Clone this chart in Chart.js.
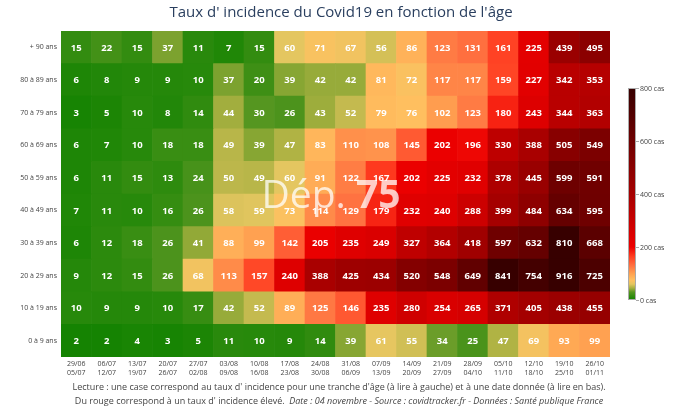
<!DOCTYPE html>
<html>
<head>
<meta charset="utf-8">
<script src="https://cdn.jsdelivr.net/npm/chart.js@4"></script>
<style>
  body { margin: 0; background: #fff; }
  #wrap { width: 684px; height: 418px; }
</style>
</head>
<body>
<div id="wrap"><canvas id="myChart" width="684" height="418"></canvas></div>
<script>
// weeks (x), age groups (y, bottom to top), incidence per 100k
var weeks = [
  ['29/06', '05/07'], ['06/07', '12/07'], ['13/07', '19/07'], ['20/07', '26/07'],
  ['27/07', '02/08'], ['03/08', '09/08'], ['10/08', '16/08'], ['17/08', '23/08'],
  ['24/08', '30/08'], ['31/08', '06/09'], ['07/09', '13/09'], ['14/09', '20/09'],
  ['21/09', '27/09'], ['28/09', '04/10'], ['05/10', '11/10'], ['12/10', '18/10'],
  ['19/10', '25/10'], ['26/10', '01/11']
];
var ages = ['0 à 9 ans', '10 à 19 ans', '20 à 29 ans', '30 à 39 ans', '40 à 49 ans',
            '50 à 59 ans', '60 à 69 ans', '70 à 79 ans', '80 à 89 ans', '+ 90 ans'];

var age0_9   = [2, 2, 4, 3, 5, 11, 10, 9, 14, 39, 61, 55, 34, 25, 47, 69, 93, 99];
var age10_19 = [10, 9, 9, 10, 17, 42, 52, 89, 125, 146, 235, 280, 254, 265, 371, 405, 438, 455];
var age20_29 = [9, 12, 15, 26, 68, 113, 157, 240, 388, 425, 434, 520, 548, 649, 841, 754, 916, 725];
var age30_39 = [6, 12, 18, 26, 41, 88, 99, 142, 205, 235, 249, 327, 364, 418, 597, 632, 810, 668];
var age40_49 = [7, 11, 10, 16, 26, 58, 59, 73, 114, 129, 179, 232, 240, 288, 399, 484, 634, 595];
var age50_59 = [6, 11, 15, 13, 24, 50, 49, 60, 91, 122, 167, 202, 225, 232, 378, 445, 599, 591];
var age60_69 = [6, 7, 10, 18, 18, 49, 39, 47, 83, 110, 108, 145, 202, 196, 330, 388, 505, 549];
var age70_79 = [3, 5, 10, 8, 14, 44, 30, 26, 43, 52, 79, 76, 102, 123, 180, 243, 344, 363];
var age80_89 = [6, 8, 9, 9, 10, 37, 20, 39, 42, 42, 81, 72, 117, 117, 159, 227, 342, 353];
var age90    = [15, 22, 15, 37, 11, 7, 15, 60, 71, 67, 56, 86, 123, 131, 161, 225, 439, 495];

var rows = [age0_9, age10_19, age20_29, age30_39, age40_49, age50_59, age60_69, age70_79, age80_89, age90];
var colorTicks = [0, 200, 400, 600, 800];

// colour scale, value -> rgb
var stops = [
  [0, [16, 130, 0]], [30, [85, 150, 32]], [45, [168, 176, 64]], [60, [228, 198, 96]],
  [75, [255, 192, 96]], [100, [255, 160, 80]], [130, [255, 112, 64]], [165, [255, 60, 32]],
  [200, [236, 0, 0]], [300, [200, 0, 0]], [400, [165, 0, 0]], [600, [110, 0, 0]], [800, [55, 0, 0]]
];
function colorFor(v) {
  if (v >= 800) return 'rgb(55,0,0)';
  for (var i = 1; i < stops.length; i++) {
    if (v <= stops[i][0]) {
      var a = stops[i - 1], b = stops[i];
      var t = (v - a[0]) / (b[0] - a[0]);
      var c = a[1].map(function (x, k) { return Math.round(x + (b[1][k] - x) * t); });
      return 'rgb(' + c.join(',') + ')';
    }
  }
  return 'rgb(55,0,0)';
}

var datasets = rows.map(function (vals, r) {
  return {
    label: ages[r],
    data: vals.map(function () { return [r, r + 1]; }),
    values: vals,
    backgroundColor: vals.map(colorFor),
    borderWidth: 0,
    barPercentage: 1,
    categoryPercentage: 1,
    grouped: false
  };
});

var FONT = '"Open Sans", sans-serif';

var extras = {
  id: 'extras',
  afterDatasetsDraw: function (chart) {
    var ctx = chart.ctx;
    ctx.save();
    // cell values
    ctx.fillStyle = '#fff';
    ctx.font = 'bold 9.5px ' + FONT;
    ctx.textAlign = 'center';
    ctx.textBaseline = 'middle';
    chart.data.datasets.forEach(function (ds, i) {
      chart.getDatasetMeta(i).data.forEach(function (el, j) {
        var p = el.getCenterPoint();
        ctx.fillText(String(ds.values[j]), p.x, p.y + 0.5);
      });
    });
    // watermark
    ctx.fillStyle = 'rgba(255,255,255,0.75)';
    ctx.textBaseline = 'alphabetic';
    ctx.textAlign = 'left';
    ctx.font = '39px ' + FONT;
    var w1 = ctx.measureText('Dép. ').width;
    ctx.font = 'bold 39px ' + FONT;
    var w2 = ctx.measureText('75').width;
    var x0 = 331 - (w1 + w2) / 2;
    ctx.font = '39px ' + FONT;
    ctx.fillText('Dép. ', x0, 208);
    ctx.font = 'bold 39px ' + FONT;
    ctx.fillText('75', x0 + w1, 208);
    ctx.restore();
  },
  afterDraw: function (chart) {
    var ctx = chart.ctx;
    ctx.save();
    // title
    ctx.fillStyle = '#2a3f5f';
    ctx.font = '15px ' + FONT;
    ctx.textAlign = 'center';
    ctx.textBaseline = 'middle';
    ctx.fillText("Taux d' incidence du Covid19 en fonction de l'âge", 341, 13);

    // colour bar
    var cx = 628, cw = 8, top = 88, bot = 300;
    var g = ctx.createLinearGradient(0, bot, 0, top);
    stops.forEach(function (s) { g.addColorStop(s[0] / 800, 'rgb(' + s[1].join(',') + ')'); });
    ctx.fillStyle = g;
    ctx.fillRect(cx, top, cw, bot - top);
    ctx.strokeStyle = '#aaa';
    ctx.lineWidth = 1;
    ctx.strokeRect(cx + 0.5, top + 0.5, cw - 1, bot - top - 1);
    ctx.fillStyle = '#444';
    ctx.font = '7px ' + FONT;
    ctx.textAlign = 'left';
    colorTicks.forEach(function (t) {
      var y = bot - (bot - top) * t / 800;
      ctx.beginPath();
      ctx.moveTo(cx + cw, y + 0.5);
      ctx.lineTo(cx + cw + 3, y + 0.5);
      ctx.stroke();
      ctx.fillText(t + ' cas', cx + cw + 4, y + 0.5);
    });

    // footnote
    ctx.fillStyle = '#444';
    ctx.textAlign = 'center';
    ctx.font = '9px ' + FONT;
    ctx.fillText("Lecture : une case correspond au taux d' incidence pour une tranche d'âge (à lire à gauche) et à une date donnée (à lire en bas).", 339, 387);
    var a = "Du rouge correspond à un taux d' incidence élevé.  ";
    var b = "Date : 04 novembre - Source : covidtracker.fr - Données : Santé publique France";
    ctx.font = '9px ' + FONT;
    var wa = ctx.measureText(a).width;
    ctx.font = 'italic 9px ' + FONT;
    var wb = ctx.measureText(b).width;
    var xs = 339 - (wa + wb) / 2;
    ctx.textAlign = 'left';
    ctx.font = '9px ' + FONT;
    ctx.fillText(a, xs, 401);
    ctx.font = 'italic 9px ' + FONT;
    ctx.fillText(b, xs + wa, 401);
    ctx.restore();
  }
};

new Chart(document.getElementById('myChart'), {
  type: 'bar',
  data: { labels: weeks, datasets: datasets },
  options: {
    responsive: false,
    animation: false,
    layout: { padding: { top: 31, right: 74, left: 0, bottom: 0 } },
    plugins: { legend: { display: false }, tooltip: { enabled: false } },
    scales: {
      x: {
        grid: { display: false, drawTicks: false },
        border: { display: false },
        ticks: { color: '#444', font: { family: FONT, size: 7 }, padding: 3, maxRotation: 0, autoSkip: false },
        afterFit: function (s) { s.height = 61; }
      },
      y: {
        min: 0, max: 10,
        grid: { display: false, drawTicks: false },
        border: { display: false },
        afterBuildTicks: function (s) {
          s.ticks = ages.map(function (a, i) { return { value: i + 0.5 }; });
        },
        ticks: {
          color: '#444', font: { family: FONT, size: 7 }, padding: 4,
          callback: function (v) { return ages[Math.floor(v)]; }
        },
        afterFit: function (s) { s.width = 61; }
      }
    }
  },
  plugins: [extras]
});
</script>
</body>
</html>
